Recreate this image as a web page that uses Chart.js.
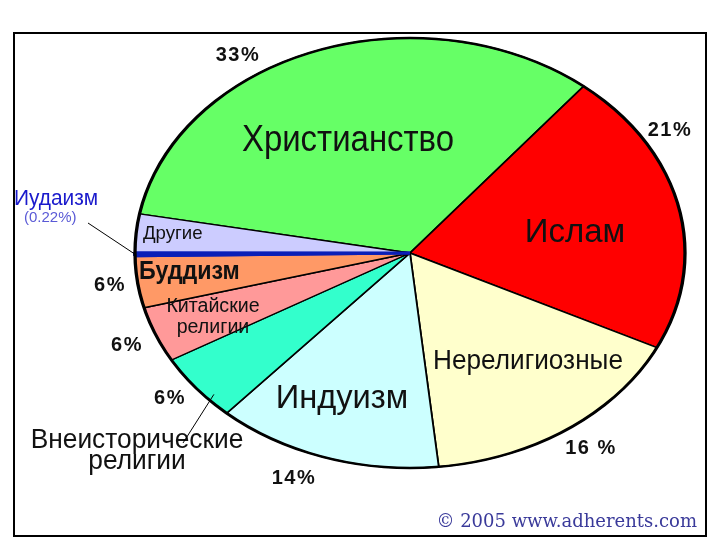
<!DOCTYPE html>
<html>
<head>
<meta charset="utf-8">
<script src="https://cdn.jsdelivr.net/npm/chart.js@4.4.1/dist/chart.umd.min.js"></script>
<style>
  html, body { margin: 0; padding: 0; background: #fff; }
  #wrap { width: 720px; height: 540px; }
</style>
</head>
<body>
<div id="wrap"><canvas id="religionsChart" width="720" height="540"></canvas></div>
<script>
// Religions of the world (adherents.com, 2005)
const religions = ['Христианство', 'Ислам', 'Нерелигиозные', 'Индуизм', 'Внеисторические религии',
                   'Китайские религии', 'Буддизм', 'Иудаизм', 'Другие'];
// slice sizes as drawn in the picture
const shares = [33, 21.4, 16.1, 13.3, 5.1, 4.2, 3.9, 0.22, 2.9];
// percent texts printed next to the slices
const pctLabels = ['33%', '21%', '16 %', '14%', '6%', '6%', '6%', '0.22%', ''];
const sliceColors = ['#66ff66', '#ff0000', '#ffffcc', '#ccffff', '#33ffcc',
                     '#ff9999', '#ff9966', '#0a1fb8', '#ccccff'];

const STRETCH = 275 / 215;   // pie is an ellipse, wider than tall
const SANS = 'Arial, "Liberation Sans", sans-serif';

// Edge point of a slice, at a fraction of its angle span
function edgePoint(arc, frac, rf) {
    const a = arc.startAngle + (arc.endAngle - arc.startAngle) * frac;
    const r = arc.outerRadius * (rf || 1);
    return { x: arc.x + r * STRETCH * Math.cos(a), y: arc.y + r * Math.sin(a) };
}

// text with optional horizontal squeeze (source font is a bit condensed)
function text(ctx, s, x, y, font, color, align, sx, spacing) {
    ctx.save();
    ctx.font = font;
    ctx.fillStyle = color || '#000';
    ctx.textAlign = align || 'center';
    ctx.textBaseline = 'middle';
    if (spacing) ctx.letterSpacing = spacing;
    ctx.translate(x, y);
    ctx.scale(sx || 1, 1);
    ctx.fillText(s, 0, 0);
    ctx.restore();
}

const ellipsePlugin = {
    id: 'ellipsePie',
    beforeDraw(chart) {
        const ctx = chart.ctx;
        ctx.save();
        ctx.fillStyle = '#fff';
        ctx.fillRect(0, 0, chart.width, chart.height);
        ctx.strokeStyle = '#000';
        ctx.lineWidth = 2;
        ctx.strokeRect(14, 33, 692, 503);
        ctx.restore();
    },
    beforeDatasetsDraw(chart) {
        const arc = chart.getDatasetMeta(0).data[0];
        const ctx = chart.ctx;
        ctx.save();
        ctx.translate(arc.x, arc.y);
        ctx.scale(STRETCH, 1);
        ctx.translate(-arc.x, -arc.y);
    },
    afterDatasetsDraw(chart) {
        const meta = chart.getDatasetMeta(0);
        const ctx = chart.ctx;
        // Judaism drawn again on top, so it shows as a full blue line
        meta.data[7].draw(ctx);
        const a = meta.data[0];
        ctx.beginPath();
        ctx.arc(a.x, a.y, a.outerRadius, 0, Math.PI * 2);
        ctx.lineWidth = 2.6;
        ctx.strokeStyle = '#000';
        ctx.stroke();
        ctx.restore();
    },
    afterDraw(chart) {
        const ctx = chart.ctx;
        const arcs = chart.getDatasetMeta(0).data;
        ctx.save();

        // names inside the slices
        text(ctx, 'Христианство', 348, 141, '37px ' + SANS, '#111', 'center', 0.89);
        text(ctx, 'Ислам', 575, 233, '34px ' + SANS, '#111', 'center', 0.97);
        text(ctx, 'Нерелигиозные', 528, 362, '27px ' + SANS, '#111', 'center', 0.97);
        text(ctx, 'Индуизм', 342, 399, '34px ' + SANS, '#111', 'center', 0.96);
        text(ctx, 'Буддизм', 139, 272, 'bold 25px ' + SANS, '#111', 'left', 0.93);
        text(ctx, 'Другие', 143, 234, '19px ' + SANS, '#111', 'left', 0.98);
        text(ctx, 'Китайские', 213, 306, '20px ' + SANS, '#111', 'center', 0.98);
        text(ctx, 'религии', 213, 327, '20px ' + SANS, '#111', 'center', 0.98);

        // outside names
        text(ctx, 'Внеисторические', 137, 440, '28px ' + SANS, '#111', 'center', 0.94);
        text(ctx, 'религии', 137, 461, '28px ' + SANS, '#111', 'center', 0.94);
        text(ctx, 'Иудаизм', 14, 199, '22px ' + SANS, '#1a1acc', 'left', 0.95);
        text(ctx, '(' + pctLabels[7] + ')', 24, 218, '15px ' + SANS, '#5a5ad6', 'left');

        // leader lines
        ctx.strokeStyle = '#000';
        ctx.lineWidth = 1;
        let p = edgePoint(arcs[7], 0.5);
        ctx.beginPath();
        ctx.moveTo(88, 223);
        ctx.lineTo(p.x, p.y);
        ctx.stroke();
        p = edgePoint(arcs[4], 0.3, 0.97);
        ctx.beginPath();
        ctx.moveTo(183, 443);
        ctx.lineTo(p.x, p.y);
        ctx.stroke();

        // percentages
        const pctSpots = [[238, 55], [670, 130], [591, 448], [294, 478], [170, 398], [127, 345], [110, 285]];
        pctSpots.forEach((pt, i) => text(ctx, pctLabels[i], pt[0], pt[1], 'bold 20px ' + SANS, '#111', 'center', 1, '1.5px'));

        text(ctx, '© 2005 www.adherents.com', 697, 522, '18px "DejaVu Serif", serif', '#3a3a9a', 'right');
        ctx.restore();
    }
};

new Chart(document.getElementById('religionsChart').getContext('2d'), {
    type: 'pie',
    data: {
        labels: religions,
        datasets: [{
            data: shares,
            backgroundColor: sliceColors,
            borderColor: sliceColors.map((c, i) => i === 7 ? '#0a1fb8' : '#000'),
            borderWidth: sliceColors.map((c, i) => i === 7 ? 3 : 1.4)
        }]
    },
    options: {
        responsive: false,
        animation: false,
        rotation: 280.5,
        radius: 215,
        layout: { padding: { left: 100, right: 0, top: 0, bottom: 34 } },
        plugins: {
            legend: { display: false },
            tooltip: { enabled: false }
        }
    },
    plugins: [ellipsePlugin]
});
</script>
</body>
</html>
